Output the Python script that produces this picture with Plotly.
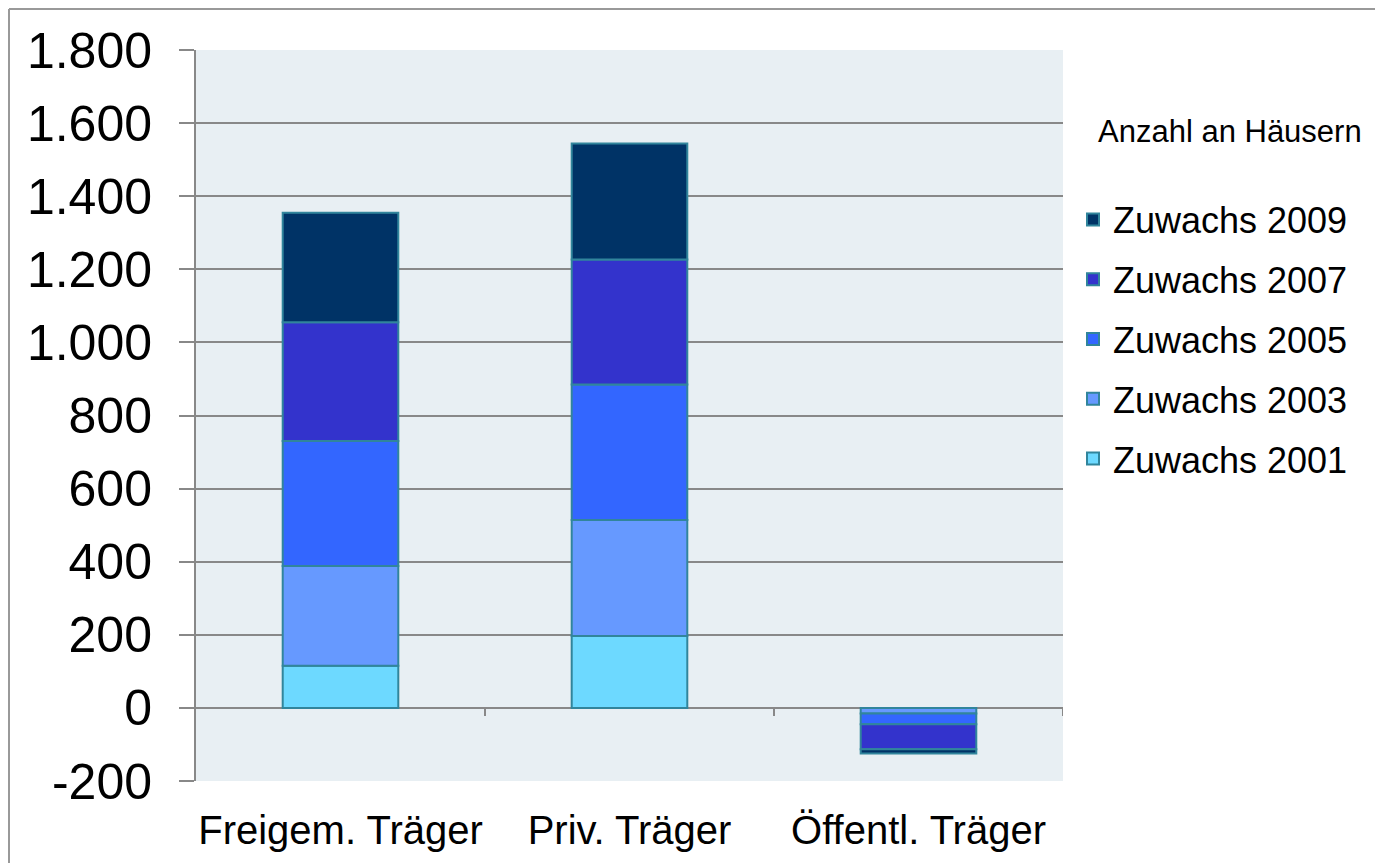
import plotly.graph_objects as go

categories = ["Freigem. Träger", "Priv. Träger", "Öffentl. Träger"]
series_names = ["Zuwachs 2001", "Zuwachs 2003", "Zuwachs 2005", "Zuwachs 2007", "Zuwachs 2009"]
v2001 = [115, 197, 0]
v2003 = [273, 317, -15]
v2005 = [342, 371, -30]
v2007 = [325, 342, -68]
v2009 = [300, 317, -12]
series_values = [v2001, v2003, v2005, v2007, v2009]
colors = ["#6DD9FF", "#6699FF", "#3366FF", "#3333CC", "#003366"]
y_ticks = [-200, 0, 200, 400, 600, 800, 1000, 1200, 1400, 1600, 1800]
y_tick_labels = ["-200", "0", "200", "400", "600", "800", "1.000", "1.200", "1.400", "1.600", "1.800"]
legend_title = "Anzahl an Häusern"

# page body has an 8px margin; work in screen coords and convert
OFF = 8
W, H = 1383 - OFF, 863 - OFF
ML, MR, MT, MB = 196 - OFF, 320, 50 - OFF, 82
pw, ph = W - ML - MR, H - MT - MB

def px_x(s):
    return (s - OFF - ML) / pw

def px_y(s):
    return (H - MB - (s - OFF)) / ph

fig = go.Figure()
for i, (name, vals) in enumerate(zip(series_names, series_values)):
    fig.add_trace(go.Bar(
        x=categories, y=vals, name=name, width=0.4,
        marker=dict(color=colors[i], line=dict(color="#31859C", width=2)),
        legendgroup=name, legendrank=len(series_names) - i,
    ))

font = "Liberation Sans, Arial, sans-serif"
grid = "#888888"

shapes = []
for b in [0.5, 1.5, 2.5]:
    shapes.append(dict(type="line", xref="x", yref="y", x0=b, x1=b, y0=0, y1=-22,
                       line=dict(color=grid, width=2), layer="above"))
# outer chart border (top and left)
shapes.append(dict(type="line", xref="paper", yref="paper",
                   x0=px_x(9), x1=px_x(1400), y0=px_y(9), y1=px_y(9),
                   line=dict(color="#999999", width=2)))
shapes.append(dict(type="line", xref="paper", yref="paper",
                   x0=px_x(9), x1=px_x(9), y0=px_y(9), y1=px_y(880),
                   line=dict(color="#999999", width=2)))

fig.update_layout(
    width=W, height=H,
    margin=dict(l=ML, r=MR, t=MT, b=MB, pad=0),
    barmode="relative",
    paper_bgcolor="white",
    plot_bgcolor="#E8EFF3",
    font=dict(family=font, color="black"),
    xaxis=dict(
        range=[-0.5, 2.5], showgrid=False, ticks="", showline=False,
        tickfont=dict(size=40), ticklabelstandoff=22,
    ),
    yaxis=dict(
        range=[-200, 1800], tickvals=y_ticks, ticktext=y_tick_labels,
        showgrid=True, gridcolor=grid, gridwidth=2,
        zeroline=True, zerolinecolor=grid, zerolinewidth=2,
        showline=True, linecolor=grid, linewidth=2,
        ticks="outside", ticklen=15, tickwidth=2, tickcolor=grid,
        tickfont=dict(size=50), ticklabelstandoff=17,
    ),
    legend=dict(
        x=px_x(1073), xanchor="left", y=px_y(339), yanchor="middle",
        traceorder="grouped", tracegroupgap=10,
        font=dict(size=36, family=font), bgcolor="rgba(0,0,0,0)",
    ),
    annotations=[dict(
        text=legend_title, xref="paper", yref="paper",
        x=px_x(1096), y=px_y(131), xanchor="left", yanchor="middle",
        showarrow=False, font=dict(size=31, family=font),
    )],
    shapes=shapes,
    showlegend=True,
)

fig.write_html("out.html")
